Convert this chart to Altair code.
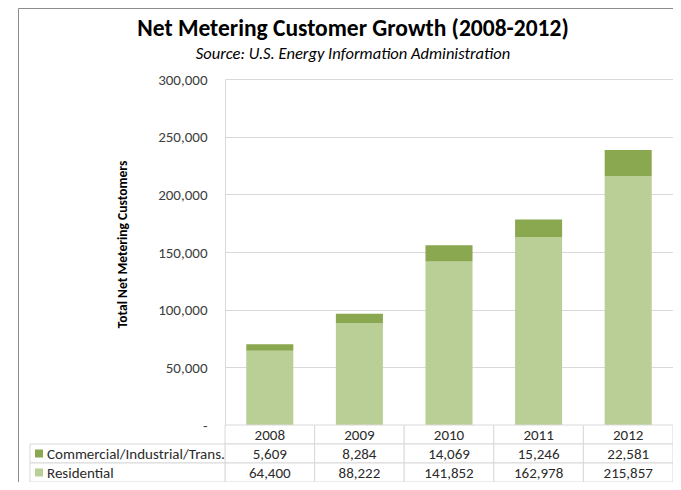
import altair as alt
import pandas as pd

# ---- data ----
years = ["2008", "2009", "2010", "2011", "2012"]
commercial = [5609, 8284, 14069, 15246, 22581]
residential = [64400, 88222, 141852, 162978, 215857]
series = ["Commercial/Industrial/Trans.", "Residential"]
colors = ["#8aa84f", "#b9cf96"]
title_text = "Net Metering Customer Growth (2008-2012)"
subtitle_text = "Source: U.S. Energy Information Administration"
y_title = "Total Net Metering Customers"
y_ticks = [0, 50000, 100000, 150000, 200000, 250000, 300000]

# ---- layout (pixels) ----
W, H = 448, 346
PAD = {"left": 217, "top": 71, "right": 0, "bottom": 57}
ROW_H = 19
FONT = "Carlito, Lato, sans-serif"
TXT = "#2b2b2b"
GRID = "#d9d9d9"

rows = []
for i, yr in enumerate(years):
    rows.append({"year": yr, "series": series[1], "value": residential[i], "ord": 0})
    rows.append({"year": yr, "series": series[0], "value": commercial[i], "ord": 1})
df = pd.DataFrame(rows)

row_keys = ["hdr"] + series
tab = []
for i, yr in enumerate(years):
    tab.append({"year": yr, "row": "hdr", "label": yr})
    tab.append({"year": yr, "row": series[0], "label": f"{commercial[i]:,}"})
    tab.append({"year": yr, "row": series[1], "label": f"{residential[i]:,}"})
tdf = pd.DataFrame(tab)
ldf = pd.DataFrame({"col": ["label", "label"], "row": series, "series": series})

# ---- bars ----
bars = alt.Chart(df).mark_bar().encode(
    x=alt.X("year:N", sort=years, axis=None,
            scale=alt.Scale(domain=years, paddingInner=0.475, paddingOuter=0.2375)),
    y=alt.Y("value:Q", stack="zero",
            scale=alt.Scale(domain=[0, 300000], nice=False),
            axis=alt.Axis(values=y_ticks,
                          labelExpr="datum.value == 0 ? '-\u00a0\u00a0\u00a0' : format(datum.value, ',')",
                          grid=True, gridColor=GRID, domain=True, domainColor=GRID,
                          ticks=False, labelPadding=18, labelFont=FONT, labelFontSize=15,
                          labelColor="#404040", title=y_title, titleFont=FONT,
                          titleFontSize=13.5, titleFontWeight="bold", titleColor="#000000",
                          titleAngle=270, titleX=-103, titleY=165, titleAlign="center",
                          titleBaseline="middle")),
    color=alt.Color("series:N", scale=alt.Scale(domain=series, range=colors), legend=None),
    order=alt.Order("ord:Q"),
)

# ---- data table ----
x_tab = alt.X("year:N", axis=None, scale=alt.Scale(domain=years, paddingInner=0, paddingOuter=0))
y_tab = alt.Y("row:N", axis=None,
              scale=alt.Scale(domain=row_keys, range=[H, H + 3 * ROW_H], paddingInner=0, paddingOuter=0))
cells = alt.Chart(tdf).mark_rect(fill="white", stroke=GRID, strokeWidth=1).encode(x=x_tab, y=y_tab)
cell_txt = alt.Chart(tdf).mark_text(font=FONT, fontSize=15, color=TXT).encode(
    x=x_tab, y=y_tab, text="label:N")
table = alt.layer(cells, cell_txt)

x_lab = alt.X("col:N", axis=None, bandPosition=0,
              scale=alt.Scale(domain=["label"], range=[-195, 0], paddingInner=0, paddingOuter=0))
x_lab_rect = alt.X("col:N", axis=None,
                   scale=alt.Scale(domain=["label"], range=[-195, 0], paddingInner=0, paddingOuter=0))
y_lab = alt.Y("row:N", axis=None,
              scale=alt.Scale(domain=row_keys, range=[H, H + 3 * ROW_H], paddingInner=0, paddingOuter=0))
lab_cells = alt.Chart(ldf).mark_rect(fill="white", stroke=GRID, strokeWidth=1).encode(x=x_lab_rect, y=y_lab)
lab_sq = alt.Chart(ldf).mark_square(size=64, opacity=1).encode(
    x=x_lab, xOffset=alt.value(9), y=y_lab,
    color=alt.Color("series:N", scale=alt.Scale(domain=series, range=colors), legend=None))
lab_txt = alt.Chart(ldf).mark_text(font=FONT, fontSize=15, color=TXT, align="left", dx=17).encode(
    x=x_lab, y=y_lab, text="series:N")
labels = alt.layer(lab_cells, lab_sq, lab_txt)

# ---- frame and titles ----
frame_df = pd.DataFrame({"k": [0]})
frame_left = alt.Chart(frame_df).mark_rule(color="#8c8c8c", strokeWidth=1).encode(
    x=alt.value(-206.5), y=alt.value(-70.5), y2=alt.value(H + PAD["bottom"]))
frame_top = alt.Chart(frame_df).mark_rule(color="#8c8c8c", strokeWidth=1).encode(
    x=alt.value(-206.5), x2=alt.value(W), y=alt.value(-70.5))
tdf_title = pd.DataFrame({"t": [title_text]})
tdf_sub = pd.DataFrame({"t": [subtitle_text]})
title = alt.Chart(tdf_title).mark_text(font=FONT, fontSize=23.5, fontWeight="bold", color="#000000",
                                       baseline="middle").encode(
    x=alt.value(128), y=alt.value(-50), text="t:N")
subtitle = alt.Chart(tdf_sub).mark_text(font=FONT, fontSize=16.5, fontStyle="italic", color="#000000",
                                        baseline="middle").encode(
    x=alt.value(128), y=alt.value(-25), text="t:N")

chart = alt.layer(bars, table, labels, frame_left, frame_top, title, subtitle).resolve_scale(
    x="independent", y="independent", color="independent"
).properties(
    width=W, height=H, padding=PAD,
    autosize=alt.AutoSizeParams(type="none"),
    background="white",
).configure_view(stroke=None)

chart.save("out.html", embed_options={"renderer": "svg", "actions": False})
